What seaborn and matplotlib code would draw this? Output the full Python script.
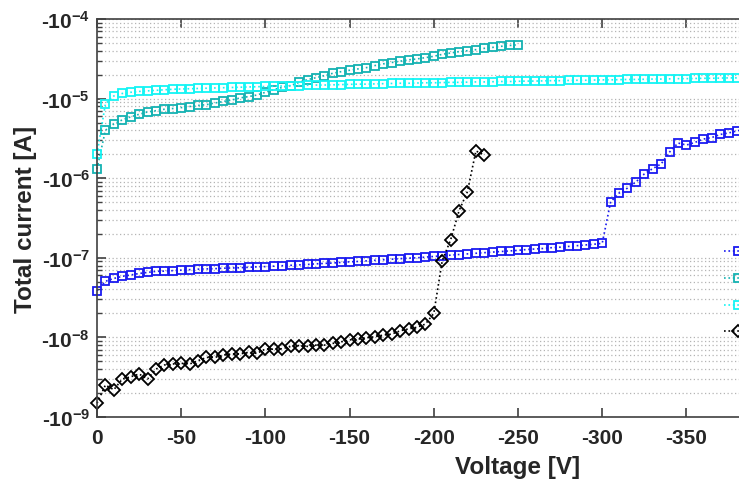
import numpy as np
import pandas as pd
import matplotlib
matplotlib.use("Agg")
import matplotlib.pyplot as plt
import seaborn as sns
from matplotlib.ticker import LogLocator, FixedLocator, FuncFormatter, NullFormatter

# Reverse-bias I-V sweeps, 5 V steps starting at 0 V; currents in A (negative)
V_STEP = -5

current_dev1 = [
    -3.86e-8, -5.07e-8, -5.50e-8, -5.85e-8, -6.08e-8, -6.35e-8, -6.55e-8, -6.75e-8, -6.80e-8, -6.90e-8,
    -7.00e-8, -7.10e-8, -7.20e-8, -7.25e-8, -7.30e-8, -7.40e-8, -7.45e-8, -7.50e-8, -7.60e-8, -7.70e-8,
    -7.75e-8, -7.85e-8, -7.95e-8, -8.05e-8, -8.15e-8, -8.25e-8, -8.40e-8, -8.50e-8, -8.60e-8, -8.75e-8,
    -8.90e-8, -9.00e-8, -9.15e-8, -9.30e-8, -9.45e-8, -9.60e-8, -9.75e-8, -9.90e-8, -1.00e-7, -1.02e-7,
    -1.04e-7, -1.06e-7, -1.08e-7, -1.10e-7, -1.12e-7, -1.14e-7, -1.16e-7, -1.18e-7, -1.20e-7, -1.22e-7,
    -1.24e-7, -1.27e-7, -1.29e-7, -1.31e-7, -1.34e-7, -1.36e-7, -1.39e-7, -1.42e-7, -1.45e-7, -1.48e-7,
    -1.52e-7, -5.02e-7, -6.50e-7, -7.50e-7, -8.95e-7, -1.13e-6, -1.32e-6, -1.51e-6, -2.13e-6, -2.77e-6,
    -2.61e-6, -2.81e-6, -3.10e-6, -3.24e-6, -3.54e-6, -3.70e-6, -3.92e-6, -4.17e-6, -4.30e-6,
]

current_dev2 = [
    -1.31e-6, -4.00e-6, -4.80e-6, -5.40e-6, -5.90e-6, -6.35e-6, -6.80e-6, -7.05e-6, -7.35e-6, -7.50e-6,
    -7.70e-6, -7.95e-6, -8.20e-6, -8.40e-6, -8.80e-6, -9.20e-6, -9.60e-6, -1.02e-5, -1.06e-5, -1.11e-5,
    -1.20e-5, -1.30e-5, -1.38e-5, -1.46e-5, -1.60e-5, -1.73e-5, -1.83e-5, -1.94e-5, -2.08e-5, -2.18e-5,
    -2.27e-5, -2.36e-5, -2.45e-5, -2.60e-5, -2.73e-5, -2.84e-5, -2.95e-5, -3.07e-5, -3.15e-5, -3.27e-5,
    -3.40e-5, -3.60e-5, -3.74e-5, -3.89e-5, -4.00e-5, -4.12e-5, -4.28e-5, -4.40e-5, -4.54e-5, -4.65e-5,
    -4.75e-5,
]

current_dev3 = [
    -2.00e-6, -8.60e-6, -1.08e-5, -1.16e-5, -1.20e-5, -1.23e-5, -1.25e-5, -1.27e-5, -1.29e-5, -1.31e-5,
    -1.32e-5, -1.33e-5, -1.34e-5, -1.35e-5, -1.36e-5, -1.37e-5, -1.38e-5, -1.39e-5, -1.40e-5, -1.41e-5,
    -1.42e-5, -1.43e-5, -1.44e-5, -1.45e-5, -1.46e-5, -1.47e-5, -1.48e-5, -1.48e-5, -1.49e-5, -1.50e-5,
    -1.51e-5, -1.52e-5, -1.52e-5, -1.53e-5, -1.54e-5, -1.55e-5, -1.56e-5, -1.56e-5, -1.57e-5, -1.58e-5,
    -1.58e-5, -1.59e-5, -1.60e-5, -1.60e-5, -1.61e-5, -1.62e-5, -1.62e-5, -1.63e-5, -1.64e-5, -1.64e-5,
    -1.65e-5, -1.66e-5, -1.66e-5, -1.67e-5, -1.68e-5, -1.68e-5, -1.69e-5, -1.70e-5, -1.70e-5, -1.71e-5,
    -1.72e-5, -1.72e-5, -1.73e-5, -1.74e-5, -1.74e-5, -1.75e-5, -1.76e-5, -1.76e-5, -1.77e-5, -1.78e-5,
    -1.78e-5, -1.79e-5, -1.80e-5, -1.80e-5, -1.81e-5, -1.82e-5, -1.82e-5, -1.83e-5, -1.84e-5,
]

current_dev4 = [
    -1.49e-9, -2.52e-9, -2.20e-9, -3.00e-9, -3.20e-9, -3.47e-9, -3.00e-9, -4.00e-9, -4.50e-9, -4.63e-9,
    -4.73e-9, -4.63e-9, -5.10e-9, -5.60e-9, -5.60e-9, -6.00e-9, -6.20e-9, -6.20e-9, -6.50e-9, -6.30e-9,
    -7.15e-9, -7.10e-9, -7.20e-9, -7.70e-9, -7.90e-9, -7.70e-9, -8.00e-9, -8.00e-9, -8.40e-9, -8.80e-9,
    -9.30e-9, -9.50e-9, -9.90e-9, -1.02e-8, -1.07e-8, -1.10e-8, -1.21e-8, -1.28e-8, -1.34e-8, -1.47e-8,
    -2.00e-8, -9.20e-8, -1.68e-7, -3.90e-7, -6.80e-7, -2.20e-6, -1.95e-6,
]

series_names = ["Device 1", "Device 2", "Device 3", "Device 4"]
series_currents = [current_dev1, current_dev2, current_dev3, current_dev4]
series_colors = ["#1a1af0", "#14b2b2", "#14f4f4", "#000000"]
series_markers = ["s", "s", "s", "D"]

x_ticks = [0, -50, -100, -150, -200, -250, -300, -350]

frames = []
for name, cur in zip(series_names, series_currents):
    cur = np.asarray(cur)
    frames.append(pd.DataFrame({
        "series": name,
        "voltage": V_STEP * np.arange(len(cur)),
        "current": cur,
    }))
data = pd.concat(frames, ignore_index=True)
data["magnitude"] = -data["current"]

sns.set_theme(style="ticks")
plt.rcParams["font.family"] = ["Liberation Sans", "DejaVu Sans"]
plt.rcParams["font.weight"] = "bold"
plt.rcParams["axes.labelweight"] = "bold"
plt.rcParams["axes.unicode_minus"] = False
plt.rcParams["mathtext.fontset"] = "custom"
plt.rcParams["mathtext.rm"] = "Liberation Sans:bold"
plt.rcParams["mathtext.bf"] = "Liberation Sans:bold"
plt.rcParams["mathtext.it"] = "Liberation Sans:bold"

TEXT = "#262626"
AXC = "#404040"

fig = plt.figure(figsize=(7.39, 4.85), dpi=100)
fig.patch.set_facecolor("white")
ax = fig.add_axes([97 / 739, 67 / 485, 842 / 739, 398 / 485])

for name, color, marker in zip(series_names, series_colors, series_markers):
    sub = data[data["series"] == name]
    sns.lineplot(
        data=sub, x="voltage", y="magnitude", ax=ax, sort=False, estimator=None,
        color=color, linestyle=":", linewidth=1.2, label=name, clip_on=False,
        marker=marker, markersize=6.0 if marker == "s" else 6.5,
        markerfacecolor="none", markeredgecolor=color, markeredgewidth=1.3,
    )

ax.set_yscale("log")
ax.set_ylim(1e-9, 1e-4)
ax.set_xlim(0, -500)

ax.xaxis.set_major_locator(FixedLocator(x_ticks))
ax.xaxis.set_major_formatter(FuncFormatter(lambda v, p: f"{int(round(v))}"))

ax.yaxis.set_major_locator(LogLocator(base=10, numticks=20))
ax.yaxis.set_minor_locator(LogLocator(base=10, subs=np.arange(2, 10), numticks=50))
ax.yaxis.set_minor_formatter(NullFormatter())
ax.yaxis.set_major_formatter(
    FuncFormatter(lambda v, p: "-10$^{\\mathbf{%d}}$" % int(round(np.log10(v))))
)

ax.yaxis.grid(True, which="both", linestyle=(0, (1, 2)), color="#b4b4b4", linewidth=0.9)
ax.xaxis.grid(False)
ax.set_axisbelow(True)

for side in ["left", "bottom", "top", "right"]:
    ax.spines[side].set_color(AXC)
    ax.spines[side].set_linewidth(1.2)

ax.tick_params(axis="both", which="both", direction="in", top=True, right=True,
               color=AXC, labelcolor=TEXT)
ax.tick_params(axis="x", which="major", length=6.5, width=1.2, labelsize=15, pad=8)
ax.tick_params(axis="y", which="major", length=6.5, width=1.2, labelsize=15, pad=5)
ax.tick_params(axis="y", which="minor", length=3.5, width=1.0)

ax.set_xlabel("Voltage [V]", fontsize=17.5, fontweight="bold", color=TEXT)
ax.set_ylabel("Total current [A]", fontsize=17.5, fontweight="bold", color=TEXT)
ax.xaxis.set_label_coords((518 - 97) / 842, (418 - 456) / 398)
ax.yaxis.set_label_coords((37 - 97) / 842, 0.5)

# Legend keys sit at the right edge of the canvas; their captions fall outside it
handles, _ = ax.get_legend_handles_labels()
ax.legend(handles, [""] * len(handles), loc="upper left",
          bbox_to_anchor=(716 / 739, 1 - 237.5 / 485),
          bbox_transform=fig.transFigure, frameon=False, borderpad=0, fontsize=12,
          handlelength=1.6, handleheight=1.0, handletextpad=0.6, labelspacing=0.63,
          numpoints=1)

fig.savefig("out.png", dpi=100, facecolor="white")
